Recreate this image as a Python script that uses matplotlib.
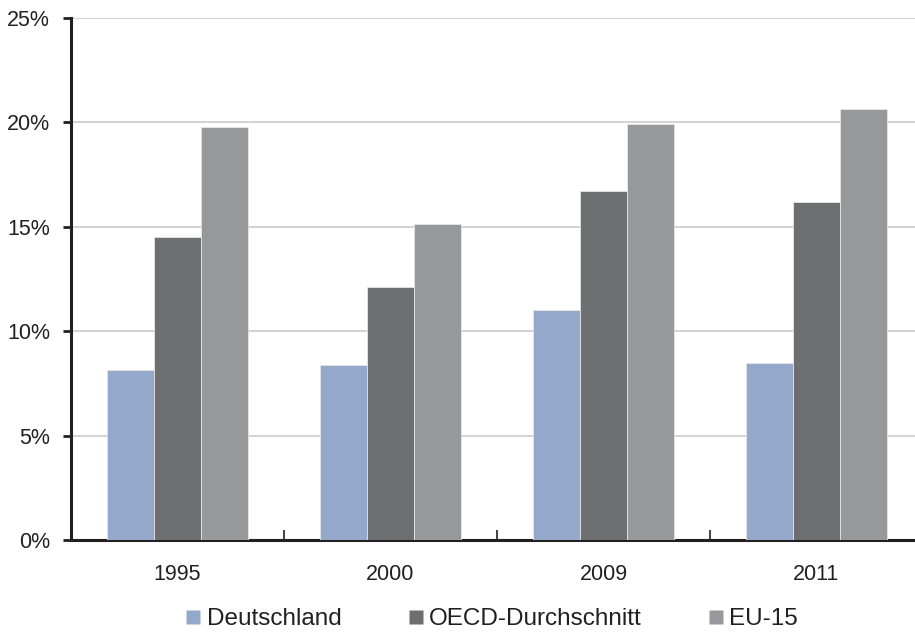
import matplotlib.pyplot as plt
import numpy as np

# data
years = ['1995', '2000', '2009', '2011']
deutschland = [8.15, 8.4, 11.0, 8.5]
oecd = [14.5, 12.1, 16.7, 16.2]
eu15 = [19.8, 15.15, 19.9, 20.65]
series_names = ['Deutschland', 'OECD-Durchschnitt', 'EU-15']
colors = ['#94a9c9', '#6d6e70', '#97989b']

plt.rcParams['font.family'] = ['Liberation Sans', 'DejaVu Sans']

W, H = 915, 632
fig = plt.figure(figsize=(W / 100, H / 100), dpi=100)
# axes spans past the right edge like the original
ax = fig.add_axes([71 / W, 92 / H, (923 - 71) / W, (540 - 18) / H])

x = np.arange(len(years))
bw = 0.222
for i, (vals, name, c) in enumerate(zip([deutschland, oecd, eu15], series_names, colors)):
    ax.bar(x + (i - 1) * bw, vals, width=bw, color=c, edgecolor='#e6e6e6',
           linewidth=0.6, label=name, zorder=3)

ax.set_xlim(-0.5, len(years) - 0.5)
ax.set_ylim(0, 25)
ax.set_yticks(np.arange(0, 26, 5))
ax.set_yticklabels([f'{v}%' for v in range(0, 26, 5)])
ax.yaxis.grid(True, color='#d4d4d4', linewidth=1.5, zorder=0)
ax.set_axisbelow(True)

# category labels centred, tick marks between groups
ax.set_xticks(x)
ax.set_xticklabels(years)
ax.tick_params(axis='x', length=0, pad=17, labelsize=15.5, labelcolor='#231f20')
ax.set_xticks(np.arange(0.5, len(years) - 1, 1), minor=True)
ax.tick_params(axis='x', which='minor', direction='in', length=7, width=1.2, color='#231f20')
ax.tick_params(axis='y', direction='out', length=6, width=2, color='#231f20',
               labelsize=15.5, labelcolor='#231f20', pad=9)

for s in ['top', 'right']:
    ax.spines[s].set_visible(False)
for s in ['left', 'bottom']:
    ax.spines[s].set_linewidth(2.2)
    ax.spines[s].set_color('#231f20')

handles = [plt.Line2D([], [], marker='s', linestyle='none', markersize=10.5,
                      markerfacecolor=c, markeredgecolor='none') for c in colors]
fig.legend(handles, series_names, loc='center', bbox_to_anchor=(492 / W, 1 - 619 / H),
           ncol=3, frameon=False, fontsize=17.5, handlelength=0.6, handletextpad=0.25,
           columnspacing=2.75, labelcolor='#231f20', borderpad=0)

fig.savefig('out.png', dpi=100)
